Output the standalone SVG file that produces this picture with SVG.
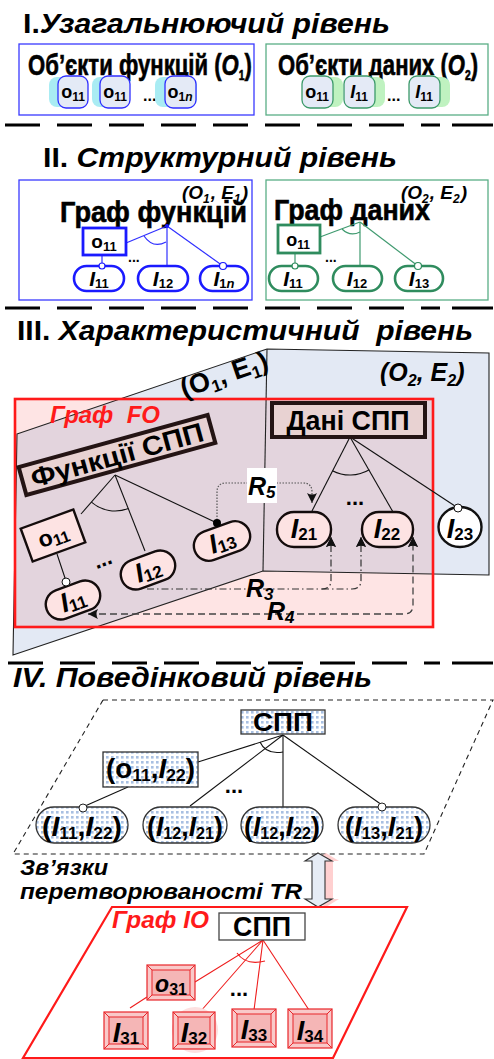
<svg xmlns="http://www.w3.org/2000/svg" width="494" height="1059" viewBox="0 0 494 1059">
<defs>
<style>
text{font-family:"Liberation Sans",Arial,sans-serif;font-weight:bold;fill:#000}
.it{font-style:italic}
.title{font-size:27px}
.heavy{stroke:#000;stroke-width:0.6}
.sep{stroke:#000;stroke-width:3;stroke-dasharray:35 17;fill:none}
.n1b{fill:#e4eaf6;stroke:#2f2fff;stroke-width:1.3}
.n1g{fill:#e4eaf6;stroke:#3c9a6a;stroke-width:1.3}
.glowb{fill:#a9ecf3}
.glowg{fill:#bff2c0}
.bl{stroke:#3030ff;stroke-width:1.2;fill:none}
.gl{stroke:#3f9a6f;stroke-width:1.2;fill:none}
.pb{fill:#fff;stroke:#1a1aff;stroke-width:2.6}
.pg{fill:#fff;stroke:#2f8c5e;stroke-width:2.6}
.ln{stroke:#111;stroke-width:1.1;fill:none}
.pk{fill:#fde3e3;stroke:#140c0c;stroke-width:2.4}
.hdr{fill:#e8d2d2;stroke:#241414;stroke-width:4}
.dotbox{fill:url(#dots);stroke:#333;stroke-width:1.3}
.rl{stroke:#ee1c1c;stroke-width:1.1;fill:none}
.bev{fill:#f9c9c9;stroke:#e8262a;stroke-width:1.2}
.bevin{fill:#f5b6b6;stroke:#e8262a;stroke-width:1}
.red{fill:#ff1a1a}
</style>
<pattern id="dots" width="5" height="5" patternUnits="userSpaceOnUse">
<rect width="5" height="5" fill="#fff"/>
<rect x="1" y="1" width="2.6" height="2.6" fill="#a9c0e2"/>
</pattern>
<marker id="ah" viewBox="0 0 10 10" refX="10" refY="5" markerWidth="10" markerHeight="10" orient="auto-start-reverse" markerUnits="userSpaceOnUse">
<path d="M0,0 L10,5 L0,10 Q3,5 0,0 z" fill="#111"/>
</marker>
</defs>

<rect width="494" height="1059" fill="#fff"/>

<!-- ===== Level I ===== -->
<g id="title-1"><text class="title" x="23" y="33" textLength="367" lengthAdjust="spacingAndGlyphs">I.<tspan class="it">Узагальнюючий рівень</tspan></text></g>

<g id="func-objects">
<rect x="19" y="44" width="235" height="71" fill="#fff" stroke="#3a3aff" stroke-width="1.3"/>
<text class="heavy" transform="translate(28 75) scale(0.72 1)" font-size="30" textLength="311" lengthAdjust="spacingAndGlyphs">Об’єкти функцій (<tspan class="it">O</tspan><tspan font-size="14" dy="5">1</tspan><tspan dy="-5">)</tspan></text>
</g>
<g id="f-o11-a"><rect x="49" y="77" width="39" height="30" rx="8" class="glowb"/><rect x="58" y="76" width="30" height="32" rx="8" class="n1b"/><text x="73" y="98" text-anchor="middle" font-size="18">o<tspan font-size="12" dy="3">11</tspan></text></g>
<g id="f-o11-b"><rect x="92" y="77" width="38" height="30" rx="8" class="glowb"/><rect x="100" y="76" width="30" height="32" rx="8" class="n1b"/><text x="115" y="98" text-anchor="middle" font-size="18">o<tspan font-size="12" dy="3">11</tspan></text></g>
<text x="143" y="101" font-size="16">...</text>
<g id="f-o1n"><rect x="155" y="77" width="42" height="30" rx="8" class="glowb"/><rect x="165" y="76" width="31" height="32" rx="8" class="n1b"/><text x="180" y="98" text-anchor="middle" font-size="18">o<tspan font-size="12" dy="3">1<tspan class="it">n</tspan></tspan></text></g>

<g id="data-objects">
<rect x="266" y="44" width="222" height="71" fill="#fff" stroke="#5aae86" stroke-width="1.3"/>
<text class="heavy" transform="translate(278 75) scale(0.72 1)" font-size="30" textLength="278" lengthAdjust="spacingAndGlyphs">Об’єкти даних (<tspan class="it">O</tspan><tspan font-size="14" dy="5">2</tspan><tspan dy="-5">)</tspan></text>
</g>
<g id="d-o11"><rect x="304" y="77" width="39" height="30" rx="8" class="glowg"/><rect x="302" y="76" width="31" height="32" rx="8" class="n1g"/><text x="317" y="98" text-anchor="middle" font-size="18">o<tspan font-size="12" dy="3">11</tspan></text></g>
<g id="d-i11-a"><rect x="346" y="77" width="39" height="30" rx="8" class="glowg"/><rect x="344" y="76" width="31" height="32" rx="8" class="n1g"/><text x="359" y="98" text-anchor="middle" font-size="18"><tspan class="it">I</tspan><tspan font-size="12" dy="3">11</tspan></text></g>
<text x="387" y="101" font-size="16">...</text>
<g id="d-i11-b"><rect x="411" y="77" width="39" height="30" rx="8" class="glowg"/><rect x="409" y="76" width="31" height="32" rx="8" class="n1g"/><text x="424" y="98" text-anchor="middle" font-size="18"><tspan class="it">I</tspan><tspan font-size="12" dy="3">11</tspan></text></g>

<line class="sep" x1="5" y1="125" x2="440" y2="125"/>
<line x1="452" y1="125" x2="493" y2="125" stroke="#000" stroke-width="3"/>

<!-- ===== Level II ===== -->
<g id="title-2"><text class="title" x="43" y="167" textLength="354" lengthAdjust="spacingAndGlyphs">II. <tspan class="it">Структурний рівень</tspan></text></g>

<g id="func-graph">
<rect x="19" y="180" width="233" height="120" fill="#fff" stroke="#3a3aff" stroke-width="1.3"/>
<text class="it" x="182" y="199" font-size="19">(O<tspan font-size="12" dy="4">1</tspan><tspan dy="-4" dx="1">, E</tspan><tspan font-size="12" dy="4">1</tspan><tspan dy="-4" dx="1">)</tspan></text>
<text class="heavy" x="60" y="222" font-size="30" textLength="187" lengthAdjust="spacingAndGlyphs">Граф функцій</text>
</g>
<g id="func-graph-edges">
<line class="bl" x1="167" y1="226" x2="126" y2="243"/>
<line class="bl" x1="167" y1="226" x2="167" y2="266"/>
<line class="bl" x1="167" y1="226" x2="223" y2="266"/>
<line class="bl" x1="102" y1="255" x2="102" y2="266"/>
<path class="bl" d="M144,236 Q153,249 166,242"/>
<circle cx="167" cy="226" r="2" fill="#1a1aff"/>
</g>
<g id="f2-o11"><rect x="83" y="228" width="43" height="27" fill="#fff" stroke="#1a1aff" stroke-width="2.8"/><text x="104" y="248" text-anchor="middle" font-size="19">o<tspan font-size="13" dy="3">11</tspan></text></g>
<text x="128" y="262" font-size="14">...</text>
<g id="f2-i11"><rect x="74" y="266" width="50" height="25" rx="12.5" class="pb"/><circle cx="102" cy="266" r="3" fill="#fff" stroke="#1a1aff" stroke-width="1.2"/><text x="99" y="286" text-anchor="middle" font-size="21"><tspan class="it">I</tspan><tspan font-size="13" dy="2">11</tspan></text></g>
<g id="f2-i12"><rect x="138" y="266" width="50" height="25" rx="12.5" class="pb"/><text x="163" y="286" text-anchor="middle" font-size="21"><tspan class="it">I</tspan><tspan font-size="13" dy="2">12</tspan></text></g>
<g id="f2-i1n"><rect x="200" y="266" width="48" height="25" rx="12.5" class="pb"/><circle cx="223" cy="266" r="3.5" fill="#fff" stroke="#1a1aff" stroke-width="1.2"/><text x="224" y="286" text-anchor="middle" font-size="21"><tspan class="it">I</tspan><tspan font-size="13" dy="2">1<tspan class="it">n</tspan></tspan></text></g>

<g id="data-graph">
<rect x="266" y="180" width="222" height="120" fill="#fff" stroke="#5aae86" stroke-width="1.3"/>
<text class="it" x="401" y="199" font-size="19">(O<tspan font-size="12" dy="4">2</tspan><tspan dy="-4" dx="1">, E</tspan><tspan font-size="12" dy="4">2</tspan><tspan dy="-4" dx="1">)</tspan></text>
<text class="heavy" x="274" y="220" font-size="30" textLength="156" lengthAdjust="spacingAndGlyphs">Граф даних</text>
</g>
<g id="data-graph-edges">
<line class="gl" x1="360" y1="222" x2="320" y2="237"/>
<line class="gl" x1="360" y1="222" x2="360" y2="266"/>
<line class="gl" x1="360" y1="222" x2="418" y2="266"/>
<line class="gl" x1="295" y1="253" x2="295" y2="266"/>
<path class="gl" d="M342,229 Q350,237 360,232"/>
</g>
<g id="d2-o11"><rect x="278" y="225" width="42" height="28" fill="#fff" stroke="#2f8c5e" stroke-width="2.8"/><text x="298" y="246" text-anchor="middle" font-size="18">o<tspan font-size="12" dy="3">11</tspan></text></g>
<text x="325" y="262" font-size="14">...</text>
<g id="d2-i11"><rect x="269" y="266" width="49" height="25" rx="12.5" class="pg"/><circle cx="295" cy="266" r="3" fill="#fff" stroke="#2f8c5e" stroke-width="1.2"/><text x="293" y="286" text-anchor="middle" font-size="21"><tspan class="it">I</tspan><tspan font-size="13" dy="2">11</tspan></text></g>
<g id="d2-i12"><rect x="333" y="266" width="49" height="25" rx="12.5" class="pg"/><text x="357" y="286" text-anchor="middle" font-size="21"><tspan class="it">I</tspan><tspan font-size="13" dy="2">12</tspan></text></g>
<g id="d2-i13"><rect x="395" y="266" width="48" height="25" rx="12.5" class="pg"/><circle cx="418" cy="266" r="3.5" fill="#fff" stroke="#2f8c5e" stroke-width="1.2"/><text x="419" y="286" text-anchor="middle" font-size="21"><tspan class="it">I</tspan><tspan font-size="13" dy="2">13</tspan></text></g>

<line class="sep" x1="5" y1="308" x2="440" y2="308"/>
<line x1="452" y1="308" x2="493" y2="308" stroke="#000" stroke-width="3"/>

<!-- ===== Level III ===== -->
<g id="title-3"><text class="title" x="17" y="340" textLength="456" lengthAdjust="spacingAndGlyphs" xml:space="preserve">III. <tspan class="it">Характеристичний  рівень</tspan></text></g>

<g id="planes">
<!-- folded plane of the two structural graphs -->
<polygon points="17,434 267,349 489,353 489,575 263,571 13,655" fill="#e3e9f4"/>
<!-- red FO frame fill and the overlap area -->
<rect x="15" y="399" width="418" height="228" fill="#fee4e4"/>
<polygon points="15,435 120,399 433,399 433,574 263,571 96,627 15,627" fill="#e3d4dd"/>
<polygon points="17,434 267,349 489,353 489,575 263,571 13,655" fill="none" stroke="#222" stroke-width="1.1"/>
<line x1="267" y1="349" x2="263" y2="571" stroke="#222" stroke-width="1.1"/>
<rect x="15" y="399" width="418" height="228" fill="none" stroke="#ff1a1a" stroke-width="2.6"/>
<text x="227" y="383" font-size="27" text-anchor="middle" transform="rotate(-19 227 383)" xml:space="preserve">(O<tspan font-size="17" dy="5">1</tspan><tspan dy="-5">, E</tspan><tspan font-size="17" dy="5">1</tspan><tspan dy="-5">)</tspan></text>
<text class="it" x="380" y="381" font-size="25">(O<tspan font-size="16" dy="5">2</tspan><tspan dy="-5">, E</tspan><tspan font-size="16" dy="5">2</tspan><tspan dy="-5">)</tspan></text>
<text class="it red" x="50" y="423" font-size="23" textLength="110" lengthAdjust="spacingAndGlyphs" xml:space="preserve">Граф  FO</text>
</g>

<g id="connectors-3">
<line class="ln" x1="115" y1="475" x2="81" y2="514"/>
<line class="ln" x1="115" y1="475" x2="145" y2="551"/>
<line class="ln" x1="115" y1="475" x2="217" y2="523"/>
<path class="ln" d="M91.4,502.2 A36,36 0 0 0 128.4,508.4"/>
<line class="ln" x1="57" y1="554" x2="66" y2="581"/>
<line class="ln" x1="350" y1="437" x2="312" y2="511"/>
<line class="ln" x1="350" y1="437" x2="393" y2="512"/>
<line class="ln" x1="350" y1="437" x2="458" y2="508"/>
<path class="ln" d="M332.4,470.7 A38,38 0 0 0 369.3,469.8"/>
<!-- R5 -->
<path d="M217,523 V492 Q217,483 226,483 H303 Q312,483 312,492 V503" fill="none" stroke="#555" stroke-width="1.2" stroke-dasharray="1.5 1.5" marker-end="url(#ah)"/>
<!-- R3 -->
<path d="M147,589 H322 Q331,589 331,580 V537" fill="none" stroke="#333" stroke-width="1.2" stroke-dasharray="7 3 1.5 3" marker-end="url(#ah)"/>
<path d="M322,589 H352 Q361,589 361,580 V537" fill="none" stroke="#333" stroke-width="1.2" stroke-dasharray="7 3 1.5 3" marker-end="url(#ah)"/>
<!-- R4 -->
<path d="M88,614 H404 Q413,614 413,605 V537" fill="none" stroke="#444" stroke-width="1.3" stroke-dasharray="7 4" marker-start="url(#ah)" marker-end="url(#ah)"/>
<rect x="247" y="468" width="30" height="35" fill="#fff"/>
<text class="it" x="248" y="495" font-size="25">R<tspan font-size="17" dy="3">5</tspan></text>
<text class="it" x="246" y="597" font-size="25">R<tspan font-size="17" dy="3">3</tspan></text>
<text class="it" x="267" y="620" font-size="25">R<tspan font-size="17" dy="3">4</tspan></text>
</g>

<g id="func-spp" transform="translate(117 455) rotate(-15.4)">
<rect x="-98" y="-14.5" width="196" height="29" class="hdr"/>
<text y="9.5" font-size="27" text-anchor="middle" textLength="178" lengthAdjust="spacingAndGlyphs">Функції СПП</text>
</g>
<g id="f3-o11" transform="translate(53 535.5) rotate(-20)">
<rect x="-28" y="-17.5" width="56" height="35" fill="#fde3e3" stroke="#140c0c" stroke-width="2.4"/>
<text y="8" font-size="23" text-anchor="middle">o<tspan font-size="16" dy="3">11</tspan></text>
</g>
<text x="105" y="566" font-size="22" text-anchor="middle" transform="rotate(-20 105 566)">...</text>
<g id="f3-i12" transform="translate(148 570) rotate(-20)">
<rect x="-28" y="-15" width="56" height="30" rx="15" class="pk"/>
<text y="9" font-size="27" text-anchor="middle"><tspan class="it">I</tspan><tspan font-size="17" dy="2">12</tspan></text>
</g>
<g id="f3-i13" transform="translate(222 541) rotate(-20)">
<rect x="-29" y="-15" width="58" height="30" rx="15" class="pk"/>
<text y="9" font-size="27" text-anchor="middle"><tspan class="it">I</tspan><tspan font-size="17" dy="2">13</tspan></text>
</g>
<circle cx="217" cy="523" r="4" fill="#000"/>
<g id="f3-i11" transform="translate(73 600) rotate(-20)">
<rect x="-28" y="-15" width="56" height="30" rx="15" class="pk"/>
<text y="9" font-size="27" text-anchor="middle"><tspan class="it">I</tspan><tspan font-size="17" dy="2">11</tspan></text>
</g>
<circle cx="66" cy="582" r="4" fill="#fff" stroke="#111" stroke-width="1"/>

<g id="data-spp">
<rect x="272" y="403" width="153" height="34" class="hdr"/>
<text x="348" y="430" font-size="27" text-anchor="middle" textLength="123" lengthAdjust="spacingAndGlyphs">Дані СПП</text>
</g>
<text x="355" y="505" font-size="22" text-anchor="middle">...</text>
<g id="d3-i21"><rect x="277" y="512" width="54" height="35" rx="17" class="pk"/><text x="304" y="538" font-size="27" text-anchor="middle"><tspan class="it">I</tspan><tspan font-size="17" dy="2">21</tspan></text></g>
<g id="d3-i22"><rect x="362" y="512" width="51" height="35" rx="17" class="pk"/><text x="387" y="538" font-size="27" text-anchor="middle"><tspan class="it">I</tspan><tspan font-size="17" dy="2">22</tspan></text></g>
<g id="d3-i23"><ellipse cx="460" cy="527" rx="21.5" ry="20" fill="#fff" stroke="#111" stroke-width="2.4"/><circle cx="458" cy="508" r="4" fill="#fff" stroke="#111" stroke-width="1"/><text x="460" y="538" font-size="27" text-anchor="middle"><tspan class="it">I</tspan><tspan font-size="17" dy="2">23</tspan></text></g>
<!-- arrowheads drawn again over the node outlines -->
<g id="r-heads">
<path d="M331,537 L326,547 Q331,544 336,547 z" fill="#111"/>
<path d="M361,537 L356,547 Q361,544 366,547 z" fill="#111"/>
<path d="M413,537 L408,547 Q413,544 418,547 z" fill="#111"/>
</g>

<line class="sep" x1="8" y1="663" x2="440" y2="663"/>
<line x1="452" y1="663" x2="493" y2="663" stroke="#000" stroke-width="3"/>

<!-- ===== Level IV ===== -->
<g id="title-4"><text class="title it" x="13" y="687" textLength="359" lengthAdjust="spacingAndGlyphs">IV. Поведінковий рівень</text></g>

<polygon id="behaviour-plane" points="103,700 493,700 424,854 13,854" fill="none" stroke="#222" stroke-width="1.1" stroke-dasharray="5 4"/>

<g id="connectors-4">
<line class="ln" x1="283" y1="735" x2="198" y2="762"/>
<line class="ln" x1="283" y1="735" x2="190" y2="806"/>
<line class="ln" x1="283" y1="735" x2="283" y2="807"/>
<line class="ln" x1="283" y1="735" x2="382" y2="805"/>
<line class="ln" x1="128" y1="787" x2="85" y2="806"/>
<path class="ln" d="M260,742 Q266,755 283,752"/>
</g>
<g id="spp-4"><rect x="241" y="710" width="84" height="24" class="dotbox"/><text x="283" y="731" font-size="25" text-anchor="middle" textLength="60" lengthAdjust="spacingAndGlyphs">СПП</text></g>
<g id="o11-i22"><rect x="103" y="752" width="95" height="35" class="dotbox"/><text x="150.5" y="778" font-size="27" text-anchor="middle" textLength="89" lengthAdjust="spacingAndGlyphs">(o<tspan font-size="17" dy="3">11</tspan><tspan dy="-3">,</tspan><tspan class="it">I</tspan><tspan font-size="17" dy="3">22</tspan><tspan dy="-3">)</tspan></text></g>
<text x="234" y="793" font-size="22" text-anchor="middle">...</text>
<g id="i11-i22"><rect x="36" y="807" width="92" height="36" rx="18" class="dotbox"/><circle cx="83" cy="808" r="4" fill="#fff" stroke="#222" stroke-width="1"/><text x="82" y="836" font-size="28" text-anchor="middle" textLength="80" lengthAdjust="spacingAndGlyphs">(<tspan class="it">I</tspan><tspan font-size="17" dy="3">11</tspan><tspan dy="-3">,</tspan><tspan class="it">I</tspan><tspan font-size="17" dy="3">22</tspan><tspan dy="-3">)</tspan></text></g>
<g id="i12-i21"><rect x="143" y="807" width="84" height="36" rx="18" class="dotbox"/><text x="185" y="836" font-size="28" text-anchor="middle" textLength="76" lengthAdjust="spacingAndGlyphs">(<tspan class="it">I</tspan><tspan font-size="17" dy="3">12</tspan><tspan dy="-3">,</tspan><tspan class="it">I</tspan><tspan font-size="17" dy="3">21</tspan><tspan dy="-3">)</tspan></text></g>
<g id="i12-i22"><rect x="241" y="807" width="82" height="36" rx="18" class="dotbox"/><text x="282" y="836" font-size="28" text-anchor="middle" textLength="76" lengthAdjust="spacingAndGlyphs">(<tspan class="it">I</tspan><tspan font-size="17" dy="3">12</tspan><tspan dy="-3">,</tspan><tspan class="it">I</tspan><tspan font-size="17" dy="3">22</tspan><tspan dy="-3">)</tspan></text></g>
<g id="i13-i21"><rect x="338" y="807" width="92" height="36" rx="18" class="dotbox"/><circle cx="382" cy="807" r="4" fill="#fff" stroke="#222" stroke-width="1"/><text x="384" y="836" font-size="28" text-anchor="middle" textLength="78" lengthAdjust="spacingAndGlyphs">(<tspan class="it">I</tspan><tspan font-size="17" dy="3">13</tspan><tspan dy="-3">,</tspan><tspan class="it">I</tspan><tspan font-size="17" dy="3">21</tspan><tspan dy="-3">)</tspan></text></g>

<g id="tr-label">
<text class="it" x="20" y="875" font-size="22" textLength="88" lengthAdjust="spacingAndGlyphs">Зв’язки</text>
<text class="it" x="20" y="899" font-size="22" textLength="282" lengthAdjust="spacingAndGlyphs">перетворюваності TR</text>
</g>
<g id="tr-arrow">
<path d="M326,853 L339,861 H333 V899 H339 L326,907 L313,899 H319 V861 H313 Z" fill="#ffc4c4" opacity="0.8"/>
<path d="M318,853 L332,861 H325 V899 H332 L318,907 L305,899 H312 V861 H305 Z" fill="#e6ecf5" stroke="#333" stroke-width="1.1"/>
</g>

<g id="graph-io">
<polygon points="112,907 407,907 333,1058 23,1058" fill="none" stroke="#ff1a1a" stroke-width="2.2"/>
<text class="it red" x="112" y="928" font-size="24" textLength="97" lengthAdjust="spacingAndGlyphs">Граф IO</text>
</g>
<g id="connectors-io">
<line class="rl" x1="263" y1="940" x2="195" y2="982"/>
<line class="rl" x1="263" y1="940" x2="200" y2="1012"/>
<line class="rl" x1="263" y1="940" x2="254" y2="1010"/>
<line class="rl" x1="263" y1="940" x2="309" y2="1010"/>
<line class="rl" x1="147" y1="997" x2="130" y2="1008"/>
<path class="rl" d="M237,953 Q246,966 265,961"/>
</g>
<g id="spp-io"><rect x="219" y="913" width="86" height="27" fill="#fff" stroke="#444" stroke-width="1.3"/><text x="262" y="936" font-size="28" text-anchor="middle" textLength="58" lengthAdjust="spacingAndGlyphs">СПП</text></g>
<g id="o31">
<rect x="147" y="965" width="48" height="35" class="bev"/>
<rect x="152" y="970" width="38" height="25" class="bevin"/>
<path d="M147,965 L152,970 M195,965 L190,970 M147,1000 L152,995 M195,1000 L190,995" stroke="#e8262a" stroke-width="1"/>
<text x="171" y="992" font-size="23" text-anchor="middle"><tspan class="it">o</tspan><tspan font-size="16" dy="3">31</tspan></text>
</g>
<text x="239" y="996" font-size="22" text-anchor="middle">...</text>
<g id="i31">
<rect x="104" y="1012" width="44" height="37" class="bev"/>
<rect x="109" y="1017" width="34" height="27" class="bevin"/>
<path d="M104,1012 L109,1017 M148,1012 L143,1017 M104,1049 L109,1044 M148,1049 L143,1044" stroke="#e8262a" stroke-width="1"/>
<text x="126" y="1042" font-size="27" text-anchor="middle"><tspan class="it">I</tspan><tspan font-size="17" dy="2">31</tspan></text>
</g>
<g id="i32">
<circle cx="195" cy="1030" r="23" fill="#fde0e0"/>
<rect x="173" y="1012" width="42" height="37" class="bev"/>
<rect x="178" y="1017" width="32" height="27" class="bevin"/>
<path d="M173,1012 L178,1017 M215,1012 L210,1017 M173,1049 L178,1044 M215,1049 L210,1044" stroke="#e8262a" stroke-width="1"/>
<text x="194" y="1042" font-size="27" text-anchor="middle"><tspan class="it">I</tspan><tspan font-size="17" dy="2">32</tspan></text>
</g>
<g id="i33">
<rect x="232" y="1009" width="44" height="38" class="bev"/>
<rect x="237" y="1014" width="34" height="28" class="bevin"/>
<path d="M232,1009 L237,1014 M276,1009 L271,1014 M232,1047 L237,1042 M276,1047 L271,1042" stroke="#e8262a" stroke-width="1"/>
<text x="254" y="1039" font-size="27" text-anchor="middle"><tspan class="it">I</tspan><tspan font-size="17" dy="2">33</tspan></text>
</g>
<g id="i34">
<rect x="288" y="1009" width="44" height="39" class="bev"/>
<rect x="293" y="1014" width="34" height="29" class="bevin"/>
<path d="M288,1009 L293,1014 M332,1009 L327,1014 M288,1048 L293,1043 M332,1048 L327,1043" stroke="#e8262a" stroke-width="1"/>
<text x="310" y="1040" font-size="27" text-anchor="middle"><tspan class="it">I</tspan><tspan font-size="17" dy="2">34</tspan></text>
</g>
</svg>
